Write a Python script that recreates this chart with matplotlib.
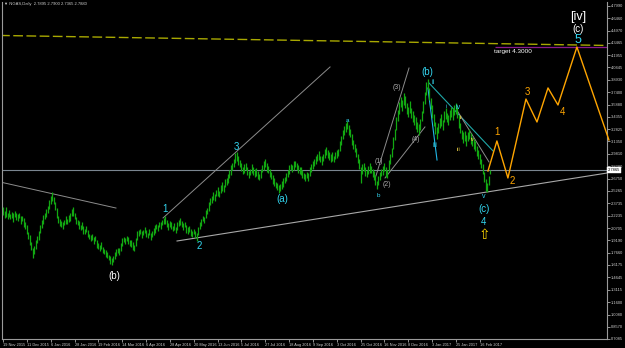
import matplotlib
matplotlib.use("Agg")
import matplotlib.pyplot as plt
import numpy as np

# ---------------- data ----------------
bar_mid = [
    2.28, 2.24, 2.27, 2.22, 2.25, 2.21, 2.23, 2.20, 2.24, 2.21,
    2.20, 2.22, 2.17, 2.19, 2.14, 2.10, 2.05, 1.98, 1.92, 1.85,
    1.76, 1.80, 1.87, 1.93, 1.98, 2.06, 2.12, 2.18, 2.22, 2.26,
    2.30, 2.36, 2.42, 2.46, 2.41, 2.34, 2.26, 2.18, 2.14, 2.12,
    2.10, 2.14, 2.17, 2.15, 2.19, 2.21, 2.26, 2.28, 2.22, 2.16,
    2.14, 2.11, 2.08, 2.10, 2.05, 2.03, 2.06, 2.00, 1.97, 1.95,
    1.96, 1.92, 1.94, 1.88, 1.85, 1.83, 1.86, 1.80, 1.78, 1.76,
    1.74, 1.71, 1.68, 1.66, 1.69, 1.73, 1.77, 1.80, 1.78, 1.84,
    1.90, 1.93, 1.91, 1.94, 1.92, 1.89, 1.88, 1.85, 1.83, 1.90,
    1.98, 2.01, 2.03, 1.99, 2.02, 2.05, 2.00, 1.98, 2.02, 1.97,
    2.00, 2.03, 2.06, 2.09, 2.07, 2.12, 2.10, 2.14, 2.16, 2.17,
    2.13, 2.09, 2.12, 2.10, 2.07, 2.09, 2.05, 2.10, 2.13, 2.15,
    2.12, 2.09, 2.11, 2.06, 2.04, 2.06, 2.02, 2.00, 2.03, 1.99,
    1.96, 2.03, 2.10, 2.14, 2.19, 2.17, 2.24, 2.28, 2.34, 2.40,
    2.42, 2.47, 2.45, 2.50, 2.52, 2.49, 2.55, 2.58, 2.56, 2.62,
    2.64, 2.68, 2.73, 2.78, 2.83, 2.87, 2.93, 2.95, 2.90, 2.86,
    2.82, 2.78, 2.80, 2.83, 2.77, 2.73, 2.76, 2.80, 2.77, 2.75,
    2.76, 2.72, 2.70, 2.74, 2.80, 2.84, 2.87, 2.82, 2.79, 2.75,
    2.72, 2.67, 2.64, 2.60, 2.58, 2.55, 2.57, 2.60, 2.63, 2.66,
    2.70, 2.74, 2.79, 2.82, 2.80, 2.84, 2.86, 2.83, 2.80, 2.78,
    2.77, 2.74, 2.71, 2.69, 2.72, 2.70, 2.76, 2.81, 2.85, 2.88,
    2.91, 2.94, 2.96, 2.92, 2.90, 2.94, 2.99, 3.02, 2.98, 2.96,
    2.93, 2.95, 2.92, 2.96, 2.98, 3.00, 3.08, 3.15, 3.22, 3.27,
    3.31, 3.34, 3.28, 3.24, 3.16, 3.10, 3.05, 3.00, 2.93, 2.86,
    2.72, 2.80, 2.82, 2.77, 2.74, 2.78, 2.81, 2.79, 2.75, 2.72,
    2.66, 2.60, 2.65, 2.71, 2.75, 2.78, 2.82, 2.76, 2.74, 2.84,
    2.92, 3.00, 3.12, 3.22, 3.35, 3.45, 3.55, 3.62, 3.58, 3.66,
    3.62, 3.54, 3.50, 3.56, 3.48, 3.44, 3.40, 3.36, 3.31, 3.28,
    3.34, 3.45, 3.56, 3.67, 3.78, 3.84, 3.72, 3.60, 3.50, 3.40,
    3.30, 3.24, 3.30, 3.36, 3.40, 3.34, 3.44, 3.48, 3.43, 3.40,
    3.46, 3.50, 3.47, 3.52, 3.54, 3.49, 3.38, 3.30, 3.22, 3.18,
    3.20, 3.15, 3.19, 3.23, 3.17, 3.14, 3.10, 3.08, 3.02, 2.98,
    2.92, 2.86, 2.80, 2.70, 2.60, 2.57, 2.66, 2.76,
]
bar_span = [
    0.10, 0.08, 0.12, 0.07, 0.09, 0.06, 0.08, 0.10, 0.07, 0.09,
    0.08, 0.06, 0.09, 0.07, 0.10, 0.08, 0.11, 0.09, 0.12, 0.10,
    0.12, 0.10, 0.11, 0.08, 0.12, 0.10, 0.09, 0.11, 0.07, 0.10,
    0.09, 0.11, 0.10, 0.12, 0.09, 0.10, 0.12, 0.09, 0.08, 0.07,
    0.08, 0.07, 0.09, 0.06, 0.08, 0.10, 0.09, 0.11, 0.08, 0.09,
    0.07, 0.09, 0.06, 0.08, 0.10, 0.07, 0.08, 0.09, 0.06, 0.08,
    0.07, 0.09, 0.06, 0.10, 0.08, 0.07, 0.09, 0.08, 0.06, 0.09,
    0.08, 0.07, 0.09, 0.08, 0.07, 0.09, 0.08, 0.06, 0.09, 0.10,
    0.09, 0.07, 0.08, 0.06, 0.09, 0.07, 0.08, 0.09, 0.07, 0.10,
    0.10, 0.08, 0.07, 0.09, 0.06, 0.08, 0.09, 0.07, 0.08, 0.09,
    0.07, 0.08, 0.09, 0.07, 0.08, 0.06, 0.09, 0.07, 0.08, 0.09,
    0.08, 0.09, 0.07, 0.08, 0.06, 0.09, 0.08, 0.10, 0.07, 0.08,
    0.07, 0.08, 0.06, 0.09, 0.08, 0.07, 0.09, 0.08, 0.07, 0.09,
    0.09, 0.10, 0.08, 0.09, 0.07, 0.08, 0.10, 0.08, 0.11, 0.09,
    0.08, 0.10, 0.09, 0.07, 0.10, 0.08, 0.09, 0.11, 0.08, 0.10,
    0.09, 0.11, 0.10, 0.12, 0.09, 0.10, 0.12, 0.10, 0.11, 0.09,
    0.10, 0.09, 0.11, 0.08, 0.10, 0.09, 0.08, 0.11, 0.09, 0.10,
    0.09, 0.10, 0.08, 0.11, 0.09, 0.10, 0.09, 0.11, 0.08, 0.10,
    0.09, 0.11, 0.10, 0.08, 0.09, 0.10, 0.08, 0.09, 0.10, 0.08,
    0.10, 0.09, 0.11, 0.08, 0.09, 0.10, 0.08, 0.09, 0.10, 0.08,
    0.09, 0.10, 0.08, 0.09, 0.08, 0.10, 0.11, 0.09, 0.10, 0.09,
    0.10, 0.09, 0.11, 0.08, 0.10, 0.09, 0.11, 0.10, 0.09, 0.10,
    0.09, 0.10, 0.08, 0.09, 0.10, 0.09, 0.12, 0.11, 0.12, 0.10,
    0.11, 0.10, 0.12, 0.10, 0.13, 0.11, 0.10, 0.12, 0.11, 0.13,
    0.20, 0.12, 0.10, 0.11, 0.09, 0.10, 0.12, 0.09, 0.10, 0.11,
    0.12, 0.10, 0.11, 0.10, 0.09, 0.11, 0.10, 0.12, 0.10, 0.13,
    0.13, 0.12, 0.15, 0.13, 0.16, 0.14, 0.15, 0.13, 0.14, 0.15,
    0.14, 0.13, 0.12, 0.14, 0.12, 0.13, 0.12, 0.14, 0.12, 0.13,
    0.14, 0.13, 0.15, 0.14, 0.16, 0.12, 0.15, 0.14, 0.16, 0.14,
    0.15, 0.14, 0.12, 0.13, 0.14, 0.12, 0.13, 0.14, 0.12, 0.13,
    0.13, 0.12, 0.14, 0.12, 0.13, 0.14, 0.15, 0.13, 0.12, 0.13,
    0.12, 0.13, 0.11, 0.12, 0.13, 0.11, 0.12, 0.13, 0.12, 0.11,
    0.12, 0.11, 0.12, 0.13, 0.14, 0.12, 0.11, 0.06,
]

date_labels = ["19 Nov 2015", "11 Dec 2015", "6 Jan 2016", "28 Jan 2016",
               "19 Feb 2016", "14 Mar 2016", "6 Apr 2016", "28 Apr 2016",
               "20 May 2016", "13 Jun 2016", "5 Jul 2016", "27 Jul 2016",
               "18 Aug 2016", "9 Sep 2016", "3 Oct 2016", "25 Oct 2016",
               "16 Nov 2016", "8 Dec 2016", "3 Jan 2017", "25 Jan 2017",
               "16 Feb 2017"]
bars_per_label = 16

price_ticks = [4.7990, 4.6460, 4.4970, 4.3465, 4.1955, 4.0445, 3.8930,
               3.7400, 3.5880, 3.4355, 3.2825, 3.1350, 2.9810, 2.8280,
               2.6750, 2.5265, 2.3735, 2.2235, 2.0705, 1.9190, 1.7660,
               1.6175, 1.4645, 1.3115, 1.1600, 1.0080, 0.8570, 0.7085]

current_price = 2.7865
target_price = 4.3000
title_text = "\u25BC NGAS,Daily  2.7895 2.7900 2.7365 2.7880"

# projected wave path (bar index, price)
proj_x = [325.5, 331.5, 338.9, 351.0, 358.4, 365.8, 372.5, 385.2, 406.7]
proj_y = [2.772, 3.141, 2.686, 3.656, 3.374, 3.792, 3.583, 4.295, 3.153]

# trend lines: (x0, y0, x1, y1, color, lw, style)
trend_lines = [
    (-2.0, 4.437, 405.4, 4.314, "#a8a800", 1.0, (0, (7, 2.5))),
    (-2.0, 2.637, 75.8, 2.317, "#8c8c8c", 0.7, "-"),
    (107.4, 2.195, 219.5, 4.050, "#8c8c8c", 0.7, "-"),
    (116.8, 1.912, 405.4, 2.747, "#a8a8a8", 0.8, "-"),
    (250.3, 2.711, 272.5, 4.037, "#8c8c8c", 0.7, "-"),
    (256.4, 2.686, 283.2, 3.313, "#8c8c8c", 0.7, "-"),
    (285.9, 3.853, 328.9, 3.018, "#1fa8a8", 0.8, "-"),
    (305.4, 3.497, 326.2, 2.883, "#8c8c8c", 0.7, "-"),
    (285.2, 3.791, 291.3, 2.907, "#20b8e8", 0.8, "-"),
]

# wave labels: (text, x, y, color, size)
CY = "#33d6f0"
GR = "#a8a8a8"
OR = "#ffa500"
YE = "#d8c040"
wave_labels = [
    ("(b)", 74.5, 1.482, "white", 7),
    ("1", 108.7, 2.305, CY, 7),
    ("2", 131.5, 1.851, CY, 7),
    ("3", 156.4, 3.067, CY, 7),
    ("(a)", 187.2, 2.428, CY, 7),
    ("a", 230.9, 3.398, CY, 4.5),
    ("b", 251.7, 2.477, CY, 4.5),
    ("(1)", 252.3, 2.883, GR, 5),
    ("(2)", 257.7, 2.612, GR, 5),
    ("(3)", 264.4, 3.792, GR, 5),
    ("(4)", 277.2, 3.153, GR, 5),
    ("(b)", 284.6, 3.988, CY, 7),
    ("ii", 288.6, 3.865, CY, 5),
    ("iii", 289.9, 3.079, CY, 5),
    ("i", 297.5, 3.570, CY, 4),
    ("iv", 305.4, 3.558, CY, 5),
    ("ii", 307.5, 3.430, YE, 4),
    ("iii", 305.4, 3.030, YE, 4),
    ("iv", 315.5, 3.160, YE, 4),
    ("v", 322.8, 2.453, CY, 5),
    ("(c)", 322.8, 2.305, CY, 7),
    ("4", 322.8, 2.145, CY, 7),
    ("1", 331.5, 3.251, OR, 7),
    ("2", 341.6, 2.649, OR, 7),
    ("3", 351.7, 3.742, OR, 7),
    ("4", 375.8, 3.497, OR, 7),
    ("[iv]", 385.9, 4.664, "white", 9),
    ("(c)", 385.9, 4.516, "white", 7),
    ("5", 385.9, 4.381, CY, 9),
]

# ---------------- drawing ----------------
BG = "black"
fig = plt.figure(figsize=(6.25, 3.48), dpi=100, facecolor=BG)
ax = fig.add_axes([2 / 625, 9 / 348, 605 / 625, 337 / 348], facecolor=BG)

idx = np.arange(len(bar_mid))
mid = np.array(bar_mid)
span = np.array(bar_span)
ax.vlines(idx, mid - span / 2, mid + span / 2, colors="#12a812", lw=0.9, zorder=3)

ax.axhline(current_price, color="#7a8590", lw=0.8, zorder=2)
ax.hlines(target_price, 330, 406, color="#8b1a8b", lw=0.9, zorder=2)

for x0, y0, x1, y1, c, lw, ls in trend_lines:
    ax.plot([x0, x1], [y0, y1], color=c, lw=lw, linestyle=ls, zorder=2)

ax.plot(proj_x, proj_y, color=OR, lw=1.0, zorder=4, clip_on=False)

font_main = ["Liberation Sans", "DejaVu Sans"]
for t, x, y, c, s in wave_labels:
    ax.text(x, y, t, color=c, fontsize=s, ha="center", va="center",
            family=font_main, zorder=5)

ax.text(322.8, 1.986, "\u21E7", color="#ffd700", fontsize=10, ha="center",
        va="center", family=["DejaVu Sans"], zorder=5)
ax.text(342.3, 4.246, "target 4.3000", color="white", fontsize=4.6,
        ha="center", va="center", family=font_main, zorder=5)

# axes limits / spines
ax.set_xlim(-0.7, 405.4)
ax.set_ylim(0.708, 4.848)
ax.spines["top"].set_visible(False)
for s in ["left", "bottom", "right"]:
    ax.spines[s].set_color("#9a9a9a")
    ax.spines[s].set_linewidth(0.8)

small_font = ["Liberation Sans", "DejaVu Sans"]
ax.yaxis.tick_right()
ax.set_yticks(price_ticks)
ax.set_yticklabels([f"{v:.4f}" for v in price_ticks], family=small_font)
ax.tick_params(axis="y", colors="#cfcfcf", labelsize=2.9, length=2, width=0.5,
               pad=1.0)

xt = [i * bars_per_label for i in range(len(date_labels))]
ax.set_xticks(xt)
ax.set_xticklabels(date_labels, family=small_font, ha="left")
ax.tick_params(axis="x", colors="#cfcfcf", labelsize=2.8, length=2, width=0.5,
               pad=1.0)

# current price box on the price scale
ax.text(1.002, current_price, "2.7865", transform=ax.get_yaxis_transform(),
        fontsize=2.9, color="black", ha="left", va="center", family=small_font,
        bbox=dict(boxstyle="square,pad=0.25", fc="white", ec="white", lw=0.3),
        zorder=6, clip_on=False)

fig.text(4 / 625, 1 - 4.5 / 348, title_text, color="#cfcfcf", fontsize=3.0,
         ha="left", va="center", family=small_font)

fig.savefig("out.png", dpi=100, facecolor=BG)
